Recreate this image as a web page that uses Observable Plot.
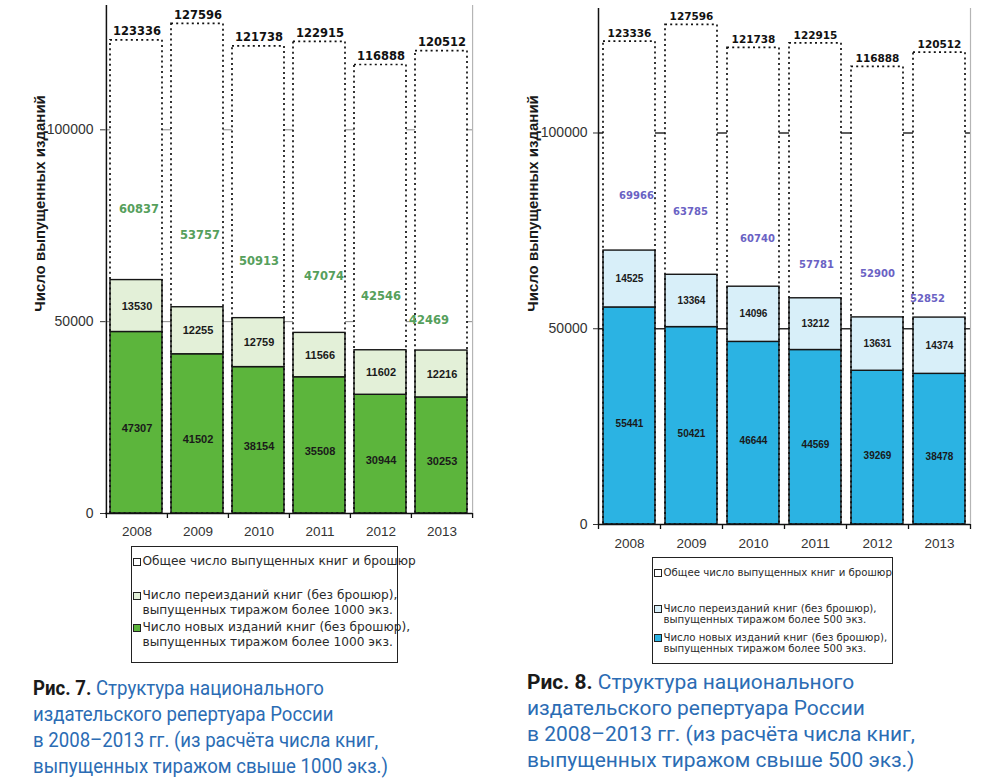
<!DOCTYPE html>
<html>
<head>
<meta charset="utf-8">
<script src="https://cdn.jsdelivr.net/npm/d3@7"></script>
<script src="https://cdn.jsdelivr.net/npm/@observablehq/plot@0.6"></script>
<style>
  body { margin: 0; background: #fff; }
  #page { position: relative; width: 1000px; height: 780px; overflow: hidden; font-family: "Liberation Sans", Arial, sans-serif; }
  .chart { position: absolute; top: 0; }
  .legend { position: absolute; border: 1.5px solid #222; background: #fff; color: #2a2a2a; box-sizing: border-box; font-family: "DejaVu Sans", sans-serif; }
  .legend .row { position: absolute; left: 1px; white-space: nowrap; }
  .legend .row .t { display: inline-block; vertical-align: top; }
  .sw { display: inline-block; width: 6px; height: 6px; border: 1.3px solid #222; margin-right: 1.5px; vertical-align: top; }
  .caption { position: absolute; font-family: Roboto, sans-serif; font-size: 20px; line-height: 26px; color: #2b6cb4; white-space: nowrap; transform-origin: 0 0; }
  .caption b { color: #1a1a1a; }
</style>
</head>
<body>
<div id="page">
  <div id="chart7" class="chart" style="left:0px"></div>
  <div id="chart8" class="chart" style="left:490px"></div>

  <div class="legend" style="left:131px;top:546px;width:267px;height:117px;font-size:12.2px;line-height:15px;">
    <div class="row" style="top:7px"><span class="sw" style="background:#fff;margin-top:4px"></span><span class="t">Общее число выпущенных книг и брошюр</span></div>
    <div class="row" style="top:41px"><span class="sw" style="background:#e3f0d8;margin-top:4px"></span><span class="t">Число переизданий книг (без брошюр),<br>выпущенных тиражом более 1000 экз.</span></div>
    <div class="row" style="top:73px"><span class="sw" style="background:#5cb53c;margin-top:4px"></span><span class="t">Число новых изданий книг (без брошюр),<br>выпущенных тиражом более 1000 экз.</span></div>
  </div>

  <div class="legend" style="left:652px;top:557px;width:241px;height:107px;font-size:10.2px;line-height:11px;">
    <div class="row" style="top:9px"><span class="sw" style="background:#fff;margin-top:2px"></span><span class="t">Общее число выпущенных книг и брошюр</span></div>
    <div class="row" style="top:45px"><span class="sw" style="background:#d8eff9;margin-top:2px"></span><span class="t">Число переизданий книг (без брошюр),<br>выпущенных тиражом более 500 экз.</span></div>
    <div class="row" style="top:74px"><span class="sw" style="background:#2bb3e3;margin-top:2px"></span><span class="t">Число новых изданий книг (без брошюр),<br>выпущенных тиражом более 500 экз.</span></div>
  </div>

  <div id="cap7" class="caption" data-fit="355" style="left:33px;top:675px;"><b>Рис. 7.</b> Структура национального<br>издательского репертуара России<br>в 2008–2013 гг. (из расчёта числа книг,<br>выпущенных тиражом свыше 1000 экз.)</div>
  <div id="cap8" class="caption" data-fit="388" style="left:527px;top:669px;"><b>Рис. 8.</b> Структура национального<br>издательского репертуара России<br>в 2008–2013 гг. (из расчёта числа книг,<br>выпущенных тиражом свыше 500 экз.)</div>
</div>

<script>
// Years and total output of books and brochures (same for both figures)
const years = ["2008", "2009", "2010", "2011", "2012", "2013"];
const totalAll = [123336, 127596, 121738, 122915, 116888, 120512];

// Fig. 7: print runs over 1000 copies
const new1000 = [47307, 41502, 38154, 35508, 30944, 30253];
const reprint1000 = [13530, 12255, 12759, 11566, 11602, 12216];
const sum1000 = [60837, 53757, 50913, 47074, 42546, 42469];

// Fig. 8: print runs over 500 copies
const new500 = [55441, 50421, 46644, 44569, 39269, 38478];
const reprint500 = [14525, 13364, 14096, 13212, 13631, 14374];
const sum500 = [69966, 63785, 60740, 57781, 52900, 52852];

const yTicks = [0, 50000, 100000];
const yTitle = "Число выпущенных изданий";

function rowsOf(newVals, reprintVals, sumVals) {
  return years.map((year, i) => ({
    year,
    total: totalAll[i],
    fresh: newVals[i],
    reprint: reprintVals[i],
    sum: sumVals[i]
  }));
}

function drawChart(cfg) {
  const rows = cfg.rows;
  const bw = (cfg.width - cfg.ml - cfg.mr) / years.length;
  const pxPerUnit = (cfg.height - cfg.mt - cfg.mb) / cfg.yMax;
  const tickLen = 5 / pxPerUnit;
  const inset = {insetLeft: cfg.insetL, insetRight: cfg.insetR};

  const sumLabels = rows.map((r, i) => Plot.text([r], {
    x: "year", y: "sum", text: d => String(d.sum),
    dx: cfg.sumDx[i], dy: cfg.sumDy[i],
    fill: cfg.sumColor, fontWeight: "bold", fontSize: cfg.sumFont,
    fontFamily: "DejaVu Sans"
  }));

  return Plot.plot({
    width: cfg.width,
    height: cfg.height,
    marginLeft: cfg.ml,
    marginRight: cfg.mr,
    marginTop: cfg.mt,
    marginBottom: cfg.mb,
    style: {fontFamily: "Liberation Sans, Arial, sans-serif", background: "transparent", overflow: "visible"},
    x: {domain: years, padding: 0, label: null},
    y: {domain: [0, cfg.yMax], label: null},
    marks: [
      // horizontal grid lines
      Plot.ruleY([50000, 100000], {stroke: cfg.gridColor, strokeWidth: cfg.gridWidth}),
      // white backing of the total-output boxes
      Plot.barY(rows, {x: "year", y1: 0, y2: "total", fill: "#fff", ...inset}),
      // new editions
      Plot.barY(rows, {x: "year", y1: 0, y2: "fresh", fill: cfg.colNew, stroke: "#151515", strokeWidth: 1.4, ...inset}),
      // reprints stacked on top
      Plot.barY(rows, {x: "year", y1: "fresh", y2: d => d.fresh + d.reprint, fill: cfg.colReprint, stroke: "#151515", strokeWidth: 1.4, ...inset}),
      // dotted outline: all books and brochures
      Plot.barY(rows, {x: "year", y1: 0, y2: "total", fill: "none", stroke: "#111", strokeWidth: 1.7, strokeDasharray: "2,3.2", ...inset}),
      // axis lines and boundary ticks
      Plot.ruleY([0], {stroke: "#111", strokeWidth: 1.5}),
      Plot.ruleX([years[0]], {x: d => d, dx: -bw / 2, stroke: "#111", strokeWidth: 1.5}),
      Plot.ruleX([years[years.length - 1]], {x: d => d, dx: bw / 2, stroke: "#b5b5b5", strokeWidth: 1.2}),
      Plot.ruleX(years, {x: d => d, dx: -bw / 2, y1: 0, y2: -tickLen, stroke: "#111", strokeWidth: 1.3}),
      Plot.ruleX([years[years.length - 1]], {x: d => d, dx: bw / 2, y1: 0, y2: -tickLen, stroke: "#111", strokeWidth: 1.3}),
      Plot.axisY({ticks: yTicks, tickFormat: d => String(d), tickSize: 5, tickPadding: cfg.yPad, fontSize: cfg.yFont, color: "#333", label: null}),
      Plot.axisX({tickSize: 0, tickPadding: cfg.xPad, fontSize: cfg.xFont, color: "#333", label: null}),
      // segment values
      Plot.text(rows, {x: "year", y: d => d.fresh / 2, text: d => String(d.fresh), dy: cfg.newDy, fontWeight: "bold", fontSize: cfg.segFont, fill: "#1a1a1a"}),
      Plot.text(rows, {x: "year", y: d => d.fresh + d.reprint / 2, text: d => String(d.reprint), fontWeight: "bold", fontSize: cfg.segFont, fill: "#1a1a1a"}),
      // totals above the dotted boxes
      Plot.text(rows, {x: "year", y: "total", text: d => String(d.total), dy: cfg.totalDy, fontWeight: "bold", fontSize: cfg.totalFont, fontFamily: "DejaVu Sans", fill: "#111"}),
      ...sumLabels,
      // vertical axis title
      Plot.text([yTitle], {frameAnchor: "left", textAnchor: "middle", rotate: -90, dx: cfg.titleDx, dy: cfg.titleDy, fontWeight: "bold", fontSize: cfg.titleFont, fill: "#1a1a1a"})
    ]
  });
}

document.getElementById("chart7").append(drawChart({
  rows: rowsOf(new1000, reprint1000, sum1000),
  width: 490, height: 550, ml: 105, mr: 18, mt: 5, mb: 37,
  yMax: 132400, insetL: 4, insetR: 5,
  colNew: "#5cb53c", colReprint: "#e3f0d8",
  gridColor: "#8a8a8a", gridWidth: 1,
  sumColor: "#56a05c", sumFont: 11.5,
  sumDx: [2, 2, 0, 4, 0, -13], sumDy: [-71, -72, -57, -57, -54, -30],
  totalFont: 11.5, totalDy: -9,
  segFont: 11, newDy: 6,
  yFont: 14, yPad: 7, xFont: 13.5, xPad: 13,
  titleFont: 15, titleDx: -65, titleDy: -56
}));

document.getElementById("chart8").append(drawChart({
  rows: rowsOf(new500, reprint500, sum500),
  width: 510, height: 560, ml: 108, mr: 30, mt: 8, mb: 36,
  yMax: 131800, insetL: 5, insetR: 5,
  colNew: "#2bb3e3", colReprint: "#d8eff9",
  gridColor: "#2a2a2a", gridWidth: 1.3,
  sumColor: "#6a62c4", sumFont: 10,
  sumDx: [7, -1, 4, 1, 0, -12], sumDy: [-55, -63, -48, -33, -44, -19],
  totalFont: 10.5, totalDy: -8,
  segFont: 10, newDy: 8,
  yFont: 14, yPad: 6, xFont: 13.5, xPad: 14,
  titleFont: 15, titleDx: -65, titleDy: -63
}));

// Narrow the captions horizontally to their column width
for (const cap of document.querySelectorAll(".caption")) {
  const target = +cap.dataset.fit;
  const w = cap.getBoundingClientRect().width;
  if (w > 0) cap.style.transform = `scaleX(${target / w})`;
}
</script>
</body>
</html>
